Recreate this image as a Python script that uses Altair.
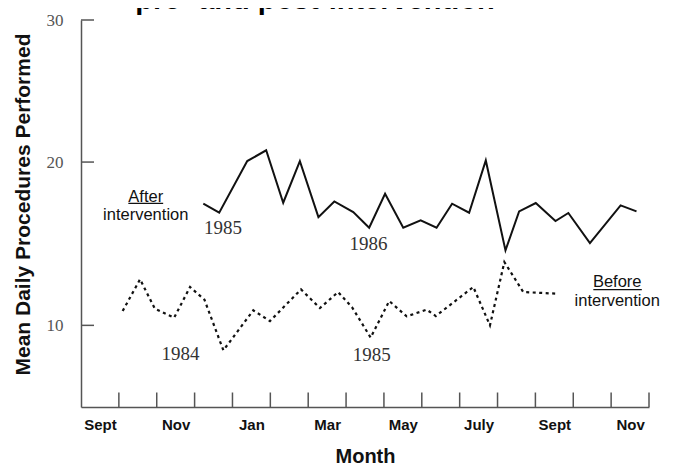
import altair as alt
import pandas as pd

# ---- data (x = months since 1 September) ----
AFTER_MONTH = [3.23, 3.65, 4.39, 4.89, 5.34, 5.78, 6.27, 6.69, 7.19, 7.61,
               8.03, 8.51, 8.97, 9.39, 9.80, 10.25, 10.69, 11.21, 11.57, 12.01,
               12.53, 12.87, 13.44, 14.25, 14.67]
AFTER_VALUE = [17.45, 16.90, 20.06, 20.72, 17.51, 20.06, 16.63, 17.59, 16.94, 15.98,
               18.06, 15.98, 16.43, 15.98, 17.45, 16.90, 20.10, 14.59, 16.98, 17.49,
               16.39, 16.88, 15.04, 17.35, 16.98]

BEFORE_MONTH = [1.10, 1.56, 1.95, 2.46, 2.88, 3.26, 3.76, 4.55, 4.99, 5.81,
                6.31, 6.79, 7.16, 7.65, 8.14, 8.60, 9.13, 9.37, 10.36, 10.80,
                11.18, 11.68, 12.56]
BEFORE_VALUE = [10.88, 12.82, 11.02, 10.47, 12.35, 11.57, 8.47, 10.92, 10.26, 12.20,
                11.06, 12.04, 11.10, 9.25, 11.49, 10.55, 10.96, 10.57, 12.35, 10.00,
                13.88, 12.04, 11.94]

MONTH_LABELS = ["Sept", "Nov", "Jan", "Mar", "May", "July", "Sept", "Nov"]
TICK_MONTHS = list(range(1, 16))
Y_TICKS = [10, 20, 28.7]
Y_TOP_LABEL = "30"

YEAR_TEXT = ["1985", "1986", "1984", "1985"]
YEAR_MONTH = [3.75, 7.59, 2.63, 7.68]
YEAR_VALUE = [15.57, 14.59, 7.86, 7.80]

NOTE_TEXT = ["After", "intervention", "Before", "intervention"]
NOTE_MONTH = [1.71, 1.71, 14.16, 14.16]
NOTE_VALUE = [17.56, 16.43, 12.35, 11.18]

UL_START = [1.25, 13.53]
UL_END = [2.17, 14.81]
UL_VALUE = [17.47, 12.19]

TITLE = "pre- and post-intervention"

# ---- tables ----
after_df = pd.DataFrame({"m": AFTER_MONTH, "v": AFTER_VALUE})
before_df = pd.DataFrame({"m": BEFORE_MONTH, "v": BEFORE_VALUE})
tick_df = pd.DataFrame({"m": TICK_MONTHS})
ytick_df = pd.DataFrame({"v": Y_TICKS})
year_df = pd.DataFrame({"m": YEAR_MONTH, "v": YEAR_VALUE, "t": YEAR_TEXT})
note_df = pd.DataFrame({"m": NOTE_MONTH, "v": NOTE_VALUE, "t": NOTE_TEXT})
ul_df = pd.DataFrame({"m": UL_START, "m2": UL_END, "v": UL_VALUE})
title_df = pd.DataFrame({"t": [TITLE]})

W, H = 568, 387
SANS = "Liberation Sans"
SERIF = "Liberation Serif"
AXIS_COLOR = "#555555"

xscale = alt.Scale(domain=[0, 15], nice=False, zero=False)
yscale = alt.Scale(domain=[5, 28.7], nice=False, zero=False)

label_array = "[" + ",".join("'%s'" % s for s in MONTH_LABELS) + "]"

x_axis = alt.Axis(
    values=[0.5 + 2 * i for i in range(len(MONTH_LABELS))],
    labelExpr=label_array + "[floor(datum.value / 2)]",
    ticks=False, tickSize=0, grid=False,
    domain=True, domainColor=AXIS_COLOR, domainWidth=1.5,
    labelFont=SANS, labelFontSize=15, labelFontWeight="bold", labelColor="#111111",
    labelPadding=10, labelFlush=False, labelOverlap=False,
    title="Month", titleFont=SANS, titleFontSize=20, titleFontWeight="bold",
    titleColor="#111111", titleY=55, titleBaseline="alphabetic",
)
y_axis = alt.Axis(
    values=Y_TICKS,
    labelExpr="datum.value > 25 ? '%s' : datum.label" % Y_TOP_LABEL,
    ticks=False, tickSize=0, grid=False,
    domain=True, domainColor=AXIS_COLOR, domainWidth=1.5,
    labelFont=SERIF, labelFontSize=17, labelColor="#555555", labelPadding=18,
    title="Mean Daily Procedures Performed", titleFont=SANS, titleFontSize=21,
    titleFontWeight="bold", titleColor="#111111", titleX=-51.5, titleY=184,
    titleBaseline="alphabetic", titleAngle=270, titleAlign="center",
)

X = alt.X("m:Q", scale=xscale, axis=x_axis, title="Month")
Y = alt.Y("v:Q", scale=yscale, axis=y_axis, title="Mean Daily Procedures Performed")

after_line = alt.Chart(after_df).mark_line(color="#111111", strokeWidth=2).encode(
    x=X, y=Y,
)
before_line = alt.Chart(before_df).mark_line(
    color="#111111", strokeWidth=2.2, strokeDash=[3, 3.5]
).encode(x=X, y=Y)
x_ticks = alt.Chart(tick_df).mark_rule(color=AXIS_COLOR, strokeWidth=1.5).encode(
    x=X,
    y=alt.value(H),
    y2=alt.value(H - 14.5),
)
y_ticks = alt.Chart(ytick_df).mark_rule(color=AXIS_COLOR, strokeWidth=1.5).encode(
    y=Y,
    x=alt.value(0),
    x2=alt.value(13),
)
years = alt.Chart(year_df).mark_text(
    font=SERIF, fontSize=19, color="#333333", align="center", baseline="alphabetic"
).encode(x=X, y=Y, text="t:N")
notes = alt.Chart(note_df).mark_text(
    font=SANS, fontSize=16.5, color="#111111", align="center", baseline="alphabetic"
).encode(x=X, y=Y, text="t:N")
underlines = alt.Chart(ul_df).mark_rule(color="#111111", strokeWidth=1.4).encode(
    x=X, x2="m2:Q", y=Y,
)
title = alt.Chart(title_df).mark_text(
    font=SANS, fontSize=29, fontWeight="bold", color="#000000",
    align="center", baseline="alphabetic"
).encode(
    x=alt.value(234), y=alt.value(-11), text="t:N"
)

chart = alt.layer(
    after_line, before_line, x_ticks, y_ticks, years, notes, underlines, title
).properties(
    width=W, height=H,
    padding={"left": 73, "top": 12, "right": 17, "bottom": 59},
    autosize=alt.AutoSizeParams(type="none"),
    background="white",
).configure_view(stroke=None)

chart.save("out.html", embed_options={"renderer": "svg", "actions": False})
